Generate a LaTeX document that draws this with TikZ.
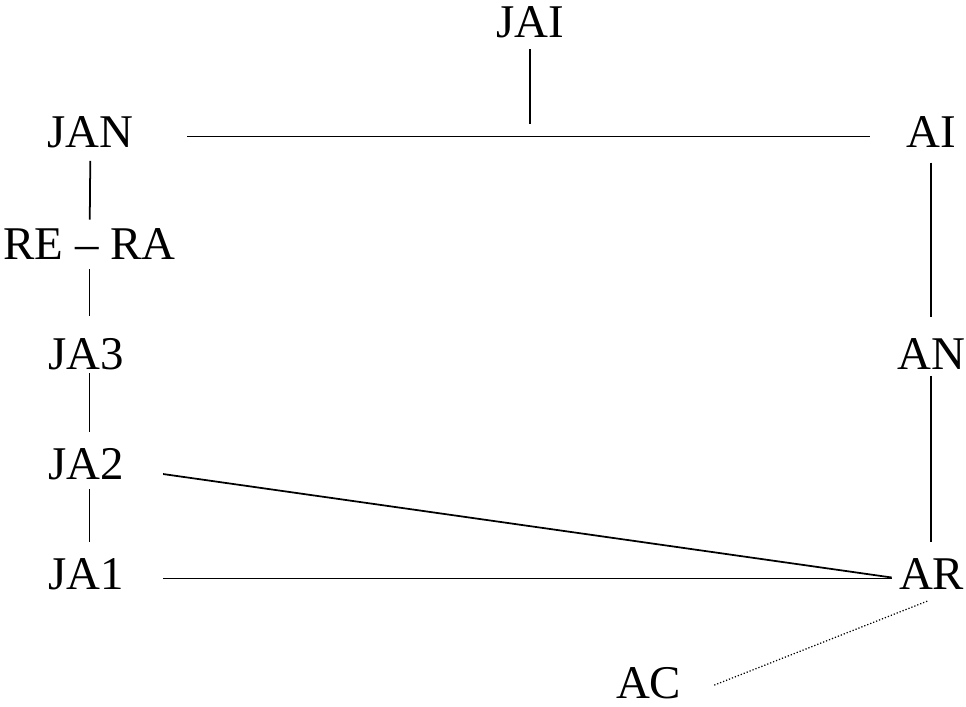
\documentclass[tikz,border=0pt]{standalone}
\usepackage{fontspec}
\setmainfont{Liberation Serif}

\begin{document}
\begin{tikzpicture}[x=0.02cm,y=-0.02cm,
		lbl/.style={font=\fontsize{26.7}{32}\selectfont,inner sep=0pt,text height=17.7pt,text depth=5.7pt},
		link/.style={line width=1pt},
		weak/.style={line width=0.7pt,dash pattern=on 0.7pt off 1.1pt}]
	\useasboundingbox (0,0) rectangle (966,706);
	% top row
	\node[lbl] (JAI) at (530,26.5) {JAI};
	\node[lbl] (JAN) at (90.5,136.5) {JAN};
	\node[lbl] (AI) at (931,136.5) {AI};
	% left column
	\node[lbl] (RERA) at (89.5,248.5) {RE -- RA};
	\node[lbl] (JA3) at (86,358.5) {JA3};
	\node[lbl] (JA2) at (86,468.5) {JA2};
	\node[lbl] (JA1) at (86,578.5) {JA1};
	% right column
	\node[lbl] (AN) at (931,358.5) {AN};
	\node[lbl] (AR) at (931.6,578.5) {AR};
	\node[lbl,text depth=0pt,anchor=base] (AC) at (648.6,698) {AC};
	% junction on the top line
	\coordinate (join) at (530,124);
	\draw[link,shorten <=1pt] (JAI) -- (join);
	\draw[link,shorten <=30.4pt,shorten >=20.5pt] (JAN.east) -- (AI.west);
	\draw[link,shorten <=2pt,shorten >=4.5pt] (JAN) -- (RERA);
	\draw[link,shorten >=12.5pt] (RERA) -- (RERA |- JA3.north);
	\draw[link,shorten <=-3.4pt,shorten >=9pt] (JA3.south -| RERA) -- (RERA |- JA2.north);
	\draw[link,shorten >=9pt] (JA2.south -| RERA) -- (RERA |- JA1.north);
	\draw[link,shorten <=3pt,shorten >=12pt] (AI) -- (AN);
	\draw[link,shorten <=-2pt,shorten >=9pt] (AN) -- (AN |- AR.north);
	\draw[link,shorten <=22.4pt,shorten >=4pt] (JA2.east) -- (AR.west);
	\draw[link,shorten <=22.2pt,shorten >=4pt] (JA1.east) -- (AR.west);
	\draw[weak,shorten <=20pt,shorten >=2pt] (AC.base east) -- (AR.south);
\end{tikzpicture}
\end{document}
